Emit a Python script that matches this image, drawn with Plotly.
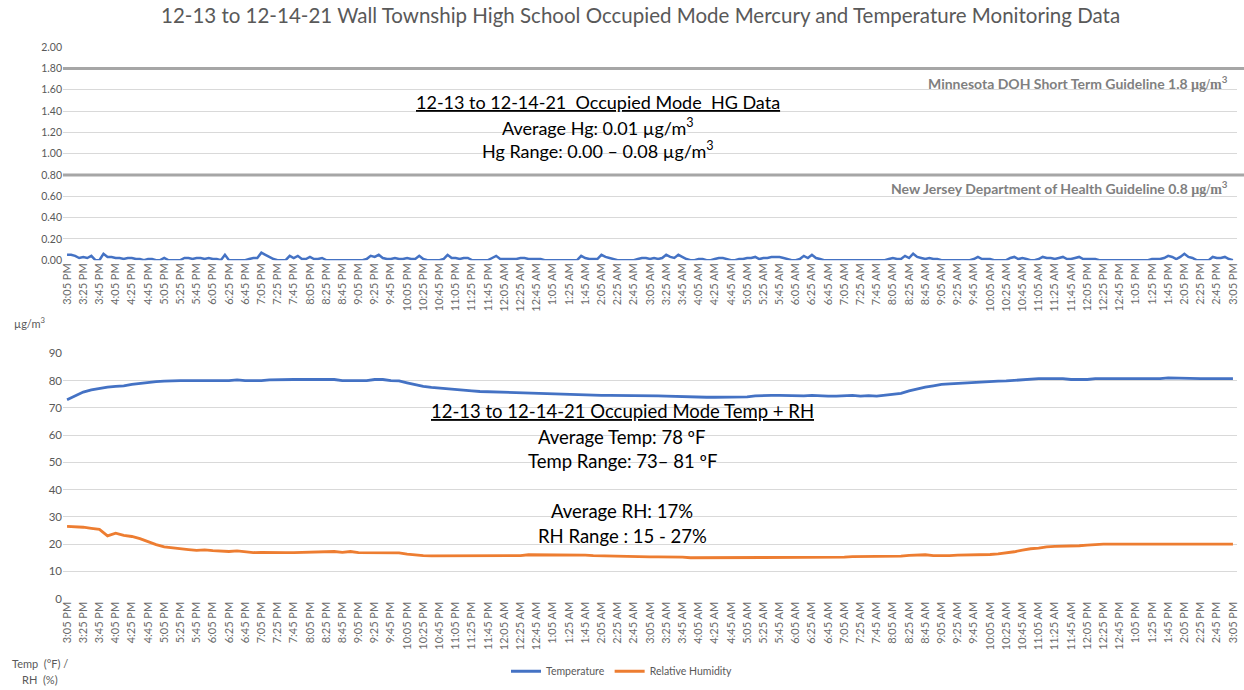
import pandas as pd
import plotly.graph_objects as go
from plotly.subplots import make_subplots

# ---------------- data ----------------
hg_times = pd.date_range("2021-12-13 15:05", "2021-12-14 15:05", freq="5min")
hg_values = [
    .05, .05, .04, .02, .03, .02, .04, .00, .00, .06, .03, .03,
    .02, .02, .01, .02, .02, .01, .01, .00, .01, .01, .00, .00,
    .02, .00, .00, .00, .00, .02, .02, .01, .02, .02, .01, .02,
    .01, .01, .00, .05, .00, .00, .00, .00, .00, .01, .02, .02,
    .07, .05, .03, .01, .00, .00, .00, .04, .02, .04, .01, .01,
    .03, .01, .01, .02, .00, .00, .00, .00, .00, .00, .00, .00,
    .00, .00, .01, .04, .03, .05, .02, .01, .01, .02, .01, .01,
    .02, .01, .01, .04, .01, .00, .00, .00, .00, .01, .05, .02,
    .02, .01, .02, .02, .00, .00, .00, .00, .00, .02, .04, .01,
    .01, .01, .01, .01, .02, .02, .01, .01, .01, .01, .00, .00,
    .00, .00, .00, .00, .00, .00, .00, .04, .02, .01, .01, .01,
    .05, .03, .02, .01, .00, .00, .00, .00, .00, .01, .02, .02,
    .01, .02, .01, .02, .05, .03, .02, .05, .03, .01, .00, .00,
    .01, .01, .00, .00, .01, .02, .02, .01, .00, .00, .01, .01,
    .02, .02, .03, .01, .02, .02, .03, .03, .03, .02, .01, .00,
    .00, .01, .04, .02, .05, .02, .01, .00, .00, .00, .00, .00,
    .00, .00, .00, .00, .00, .00, .00, .00, .00, .00, .00, .01,
    .02, .01, .01, .04, .02, .06, .03, .02, .01, .02, .01, .01,
    .00, .00, .00, .00, .00, .00, .00, .00, .01, .03, .01, .01,
    .01, .00, .00, .00, .00, .02, .03, .01, .02, .01, .00, .00,
    .01, .03, .02, .02, .01, .02, .03, .01, .01, .02, .03, .01,
    .01, .01, .01, .00, .00, .00, .00, .00, .00, .00, .00, .00,
    .00, .00, .00, .00, .01, .01, .01, .02, .04, .03, .01, .03,
    .06, .03, .02, .00, .00, .00, .00, .03, .02, .02, .03, .01, .00,
]

env_times = pd.date_range("2021-12-13 15:05", "2021-12-14 15:05", freq="10min")
temperature = [
    73.0, 74.5, 75.8, 76.6, 77.2, 77.6,
    77.9, 78.1, 78.6, 79.0, 79.4, 79.6,
    79.8, 80.0, 80.0, 80.0, 80.0, 80.0,
    80.0, 80.0, 80.0, 80.3, 80.0, 80.0,
    80.0, 80.3, 80.4, 80.4, 80.4, 80.4,
    80.4, 80.4, 80.4, 80.4, 80.0, 80.0,
    80.0, 80.0, 80.4, 80.4, 80.0, 79.9,
    79.2, 78.5, 77.9, 77.5, 77.2, 77.0,
    76.6, 76.4, 76.2, 76.0, 75.9, 75.8,
    75.6, 75.5, 75.4, 75.3, 75.3, 75.2,
    75.0, 75.0, 74.9, 74.9, 74.8, 74.7,
    74.6, 74.6, 74.6, 74.5, 74.5, 74.5,
    74.4, 74.4, 74.3, 74.2, 74.0, 74.0,
    73.9, 73.9, 73.9, 73.9, 73.9, 73.9,
    74.0, 74.4, 74.6, 74.6, 74.6, 74.5,
    74.3, 74.4, 74.6, 74.4, 74.3, 74.3,
    74.5, 74.6, 74.3, 74.5, 74.3, 74.6,
    74.8, 75.3, 76.2, 77.0, 77.6, 78.1,
    78.6, 78.8, 79.0, 79.1, 79.3, 79.5,
    79.7, 79.8, 79.9, 80.1, 80.4, 80.7,
    80.7, 80.7, 80.7, 80.7, 80.4, 80.4,
    80.4, 80.7, 80.7, 80.7, 80.7, 80.7,
    80.7, 80.7, 80.7, 80.7, 81.0, 80.9,
    80.7, 80.7, 80.7, 80.7, 80.7, 80.7,
    80.7,
]
relative_humidity = [
    26.5, 26.4, 26.2, 25.8, 25.4, 23.0,
    24.0, 23.2, 22.8, 22.0, 20.8, 19.8,
    19.0, 18.6, 18.3, 18.0, 17.7, 17.9,
    17.6, 17.4, 17.3, 17.5, 17.2, 16.9,
    17.0, 16.9, 16.9, 16.9, 16.9, 17.0,
    17.0, 17.3, 17.3, 17.3, 17.0, 17.3,
    16.9, 16.9, 16.9, 16.9, 16.9, 16.8,
    16.3, 16.0, 15.8, 15.7, 15.7, 15.7,
    15.7, 15.7, 15.7, 15.7, 15.7, 15.7,
    15.7, 15.8, 15.8, 16.1, 16.1, 16.1,
    16.1, 16.1, 16.1, 16.1, 16.0, 15.8,
    15.7, 15.6, 15.6, 15.6, 15.4, 15.3,
    15.3, 15.3, 15.3, 15.3, 15.2, 15.0,
    15.0, 15.0, 15.0, 15.0, 15.0, 15.0,
    15.0, 15.0, 15.0, 15.0, 15.0, 15.0,
    15.0, 15.0, 15.0, 15.0, 15.0, 15.1,
    15.2, 15.4, 15.4, 15.4, 15.4, 15.5,
    15.5, 15.6, 15.9, 16.0, 16.1, 15.8,
    15.7, 15.8, 16.0, 16.0, 16.0, 16.1,
    16.2, 16.4, 16.7, 17.2, 17.8, 18.3,
    18.5, 19.0, 19.2, 19.2, 19.2, 19.4,
    19.6, 19.9, 20.0, 20.0, 20.0, 20.0,
    20.0, 20.0, 20.0, 20.0, 20.0, 20.0,
    20.0, 20.0, 20.0, 20.0, 20.0, 20.0,
    20.0,
]
guidelines = [1.8, 0.8]
guideline_labels = [
    "Minnesota DOH Short Term Guideline 1.8 <span style='font-family:Liberation Serif'>µg/m</span><sup>3</sup>",
    "New Jersey Department of Health Guideline 0.8 <span style='font-family:Liberation Serif'>µg/m</span><sup>3</sup>",
]

# ---------------- figure ----------------
W, H = 1244, 690
FONT = "Lato"
GRAY = "#595959"
BLUE = "#4472C4"
ORANGE = "#ED7D31"


def py(px):
    return 1 - px / H


def pxx(px):
    return (px - 63) / (W - 63 - 7)


fig = make_subplots(rows=2, cols=1)

fig.add_trace(go.Scatter(x=hg_times, y=hg_values, mode="lines", name="Hg",
                         line=dict(color=BLUE, width=2.5), showlegend=False),
              row=1, col=1)
fig.add_trace(go.Scatter(x=env_times, y=temperature, mode="lines", name="Temperature",
                         line=dict(color=BLUE, width=2.8)), row=2, col=1)
fig.add_trace(go.Scatter(x=env_times, y=relative_humidity, mode="lines", name="Relative Humidity",
                         line=dict(color=ORANGE, width=2.8)), row=2, col=1)

xcommon = dict(
    type="date",
    range=["2021-12-13 15:00", "2021-12-14 15:10"],
    tickmode="linear", tick0="2021-12-13 15:05", dtick=20 * 60 * 1000,
    tickformat="%-I:%M %p", tickangle=-90,
    tickfont=dict(family=FONT, size=11, color="#6b6b6b"),
    showgrid=False, zeroline=False, showline=False, ticks="",
)
fig.update_xaxes(**xcommon)
fig.update_xaxes(domain=[0, 1], row=1, col=1)
fig.update_xaxes(domain=[0, 1], row=2, col=1)

fig.update_yaxes(row=1, col=1, domain=[py(258), py(41)], range=[0, 2.0],
                 tickmode="linear", tick0=0, dtick=0.2, tickformat=".2f",
                 gridcolor="#d9d9d9", gridwidth=1, zeroline=False, showline=False,
                 tickfont=dict(family=FONT, size=10.5, color=GRAY), ticks="")
fig.update_yaxes(row=2, col=1, domain=[py(603), py(353)], range=[0, 90],
                 tickmode="linear", tick0=0, dtick=10,
                 gridcolor="#d9d9d9", gridwidth=1, zeroline=False, showline=False,
                 tickfont=dict(family=FONT, size=11.5, color=GRAY), ticks="")

for g in guidelines:
    fig.add_shape(type="line", xref="x domain", yref="y", x0=0, x1=1.006, y0=g, y1=g,
                  line=dict(color="#a6a6a6", width=3), layer="above")

for lab, ypx in zip(guideline_labels, [77, 184]):
    fig.add_annotation(text=f"<b>{lab}</b>", xref="paper", yref="paper",
                       x=pxx(1230), y=py(ypx), xanchor="right", yanchor="middle",
                       showarrow=False, font=dict(family=FONT, size=14, color="#7f7f7f"))

annots = [
    ("12-13 to 12-14-21 Wall Township High School Occupied Mode Mercury and Temperature Monitoring Data",
     640, 8, 20.5, GRAY),
    ("<u>12-13 to 12-14-21  Occupied Mode  HG Data</u>", 598, 97, 18, "#000000"),
    ("Average Hg: 0.01 µg/m<sup>3</sup>", 598, 122, 18, "#000000"),
    ("Hg Range: 0.00 – 0.08 µg/m<sup>3</sup>", 598, 146, 18, "#000000"),
    ("<u>12-13 to 12-14-21 Occupied Mode Temp + RH</u>", 622, 412, 18.5, "#000000"),
    ("Average Temp: 78 ºF", 622, 438, 18.5, "#000000"),
    ("Temp Range: 73– 81 ºF", 622, 463, 18.5, "#000000"),
    ("Average RH: 17%", 622, 514, 18.5, "#000000"),
    ("RH Range : 15 - 27%", 622, 539, 18.5, "#000000"),
]
for text, xp, yp, size, color in annots:
    fig.add_annotation(text=text, xref="paper", yref="paper", x=pxx(xp), y=py(yp),
                       xanchor="center", yanchor="middle", showarrow=False,
                       font=dict(family=FONT, size=size, color=color))

fig.add_annotation(text="µg/m<sup>3</sup>", xref="paper", yref="paper", x=pxx(12), y=py(322),
                   xanchor="left", yanchor="middle", showarrow=False,
                   font=dict(family=FONT, size=11, color=GRAY))
fig.add_annotation(text="Temp  (°F) /", xref="paper", yref="paper", x=pxx(40), y=py(669),
                   xanchor="center", yanchor="middle", showarrow=False,
                   font=dict(family=FONT, size=11, color=GRAY))
fig.add_annotation(text="RH  (%)", xref="paper", yref="paper", x=pxx(40), y=py(685),
                   xanchor="center", yanchor="middle", showarrow=False,
                   font=dict(family=FONT, size=11, color=GRAY))

fig.update_layout(
    width=W, height=H,
    margin=dict(l=63, r=7, t=0, b=0),
    paper_bgcolor="white", plot_bgcolor="white",
    font=dict(family=FONT, color=GRAY),
    showlegend=True,
    legend=dict(orientation="h", x=pxx(622), y=py(677), xanchor="center", yanchor="middle",
                font=dict(family=FONT, size=10.5, color=GRAY), itemwidth=30),
)

fig.write_html("out.html", config={"displayModeBar": False},
               post_script="document.body.style.margin='0';document.body.style.overflow='hidden';")
